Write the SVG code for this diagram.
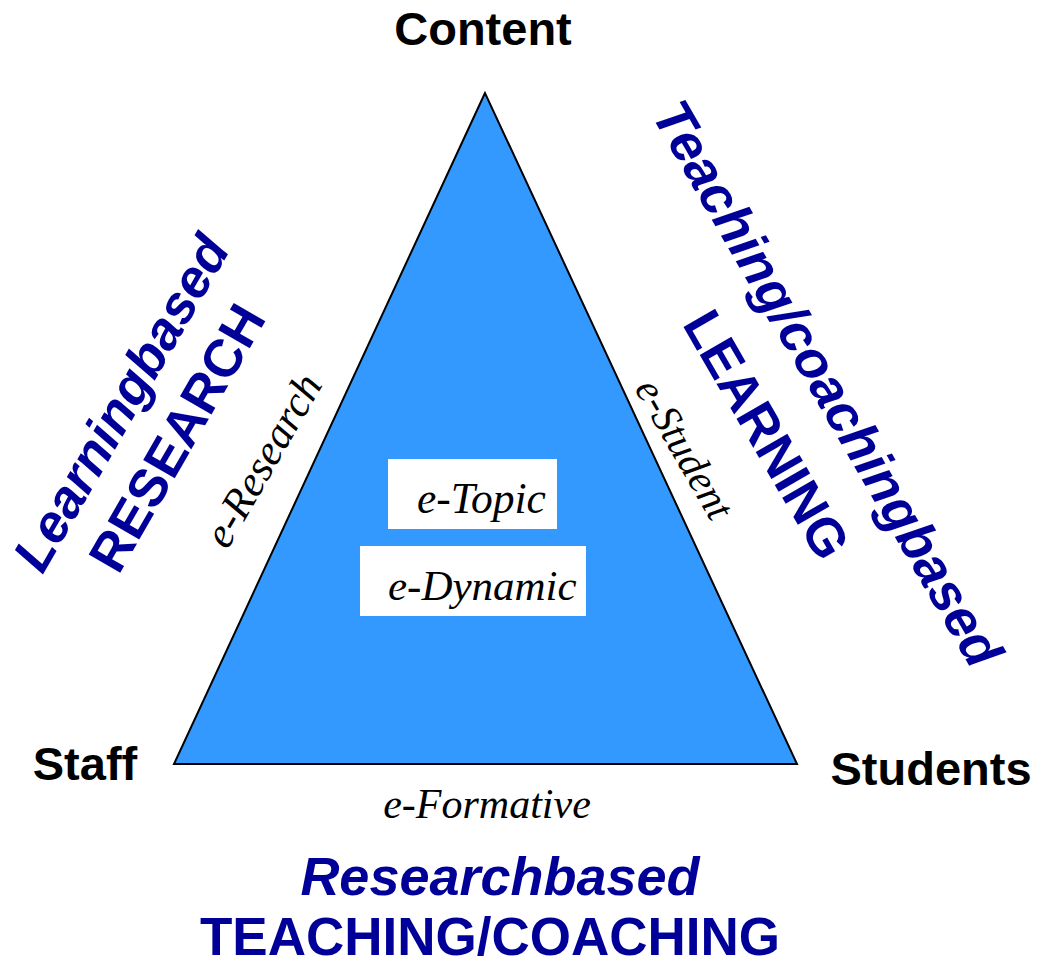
<svg xmlns="http://www.w3.org/2000/svg" width="1046" height="965" viewBox="0 0 1046 965">
<style>
.lab{font-family:"Liberation Sans",Arial,sans-serif;font-weight:bold;font-size:47px;fill:#000;}
.it{font-family:"Liberation Serif","Times New Roman",serif;font-style:italic;font-size:42px;fill:#000;}
.nb{font-family:"Liberation Sans",Arial,sans-serif;font-weight:bold;font-size:53px;fill:#000099;}
.nbi{font-family:"Liberation Sans",Arial,sans-serif;font-weight:bold;font-style:italic;font-size:53px;fill:#000099;}
.box{fill:#fff;}
</style>
<rect width="1046" height="965" fill="#fff"/>
<g id="triangle">
<polygon points="485,93 174,764 797,764" fill="#3399FF" stroke="#000" stroke-width="2"/>
</g>
<g id="edges">
<text class="it" transform="translate(264,461) rotate(-60)" x="0" y="13" text-anchor="middle" style="font-size:43px">e-Research</text>
<text class="it" transform="translate(684,449) rotate(60)" x="0" y="13" text-anchor="middle" style="font-size:41px">e-Student</text>
<text class="it" x="487" y="818" text-anchor="middle">e-Formative</text>
</g>
<g id="content"><text class="lab" x="483" y="45" text-anchor="middle">Content</text></g>
<g id="staff"><text class="lab" x="85" y="780" text-anchor="middle">Staff</text></g>
<g id="students"><text class="lab" x="931" y="785" text-anchor="middle">Students</text></g>
<g id="etopic">
<rect class="box" x="388" y="459" width="169" height="70"/>
<text class="it" x="417" y="513" style="font-size:43.5px">e-Topic</text>
</g>
<g id="edynamic">
<rect class="box" x="360" y="546" width="226" height="70"/>
<text class="it" x="388" y="600" style="font-size:43px">e-Dynamic</text>
</g>
<g id="left-label" transform="translate(150,421) rotate(-60)">
<text class="nbi" x="1" y="-16" text-anchor="middle">Learningbased</text>
<text class="nb" x="-1" y="50" text-anchor="middle">RESEARCH</text>
</g>
<g id="right-label" transform="translate(795,408) rotate(60)">
<text class="nbi" x="-5" y="-22" text-anchor="middle" style="font-size:54px">Teaching/coachingbased</text>
<text class="nb" x="9" y="56" text-anchor="middle">LEARNING</text>
</g>
<g id="bottom-label">
<text class="nbi" x="500" y="895" text-anchor="middle" style="font-size:54px">Researchbased</text>
<text class="nb" x="490" y="955" text-anchor="middle">TEACHING/COACHING</text>
</g>
</svg>
